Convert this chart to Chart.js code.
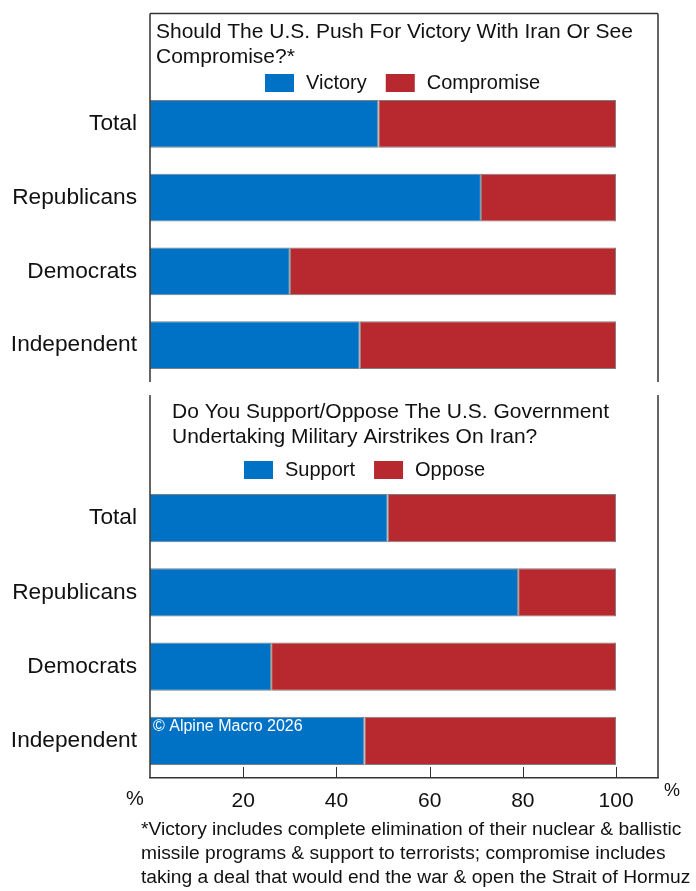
<!DOCTYPE html>
<html>
<head>
<meta charset="utf-8">
<script src="https://cdn.jsdelivr.net/npm/chart.js@4.4.1/dist/chart.umd.min.js"></script>
<style>
  body { margin: 0; background: #fff; width: 696px; height: 891px; position: relative; overflow: hidden;
         font-family: 'Liberation Sans', Arial, sans-serif; }
  canvas { position: absolute; left: 0; }
  #top { top: 0; }
  #bottom { top: 390px; }
  #note { position: absolute; left: 141px; top: 817px; font-size: 19.2px; line-height: 24px; color: #111; white-space: nowrap; }
</style>
</head>
<body>
<canvas id="top" width="696" height="390"></canvas>
<canvas id="bottom" width="696" height="430"></canvas>
<div id="note">*Victory includes complete elimination of their nuclear &amp; ballistic<br>missile programs &amp; support to terrorists; compromise includes<br>taking a deal that would end the war &amp; open the Strait of Hormuz</div>
<script>
// survey shares, % of respondents
const groups = ['Total', 'Republicans', 'Democrats', 'Independent'];
const victory = [49, 71, 30, 45];
const compromise = [51, 29, 70, 55];
const support = [51, 79, 26, 46];
const oppose = [49, 21, 74, 54];
const xTicks = [20, 40, 60, 80, 100];

const BLUE = '#0072C6';
const RED = '#B8282F';
const LINE = '#333';
const FONT = "'Liberation Sans', Arial, sans-serif";

// frame lines, titles, legend, inside ticks and notes
const decor = {
    id: 'decor',
    afterDraw(chart, args, o) {
        const { ctx, chartArea: a } = chart;
        ctx.save();
        ctx.strokeStyle = LINE;
        ctx.lineWidth = 1.5;
        ctx.beginPath();
        if (o.frameTop != null) {
            ctx.moveTo(a.left, o.frameTop);
            ctx.lineTo(a.right, o.frameTop);
        }
        ctx.moveTo(a.left, o.sideTop);
        ctx.lineTo(a.left, a.bottom);
        ctx.moveTo(a.right, o.sideTop);
        ctx.lineTo(a.right, a.bottom);
        ctx.stroke();

        ctx.fillStyle = '#111';
        ctx.textBaseline = 'middle';
        ctx.textAlign = 'left';
        ctx.font = `21px ${FONT}`;
        o.title.forEach((t, i) => ctx.fillText(t, o.titleX, o.titleY + i * 25));

        // legend
        ctx.font = `20px ${FONT}`;
        let x = o.legendX;
        chart.data.datasets.forEach(ds => {
            ctx.fillStyle = ds.backgroundColor;
            ctx.fillRect(x, o.legendY - 9, 29, 18);
            ctx.fillStyle = '#111';
            ctx.fillText(ds.label, x + 41, o.legendY);
            x += 41 + ctx.measureText(ds.label).width + 19;
        });

        if (o.axis) {
            const xs = chart.scales.x;
            ctx.lineWidth = 1;
            ctx.beginPath();
            xTicks.forEach(v => {
                const px = Math.round(xs.getPixelForValue(v)) + 0.5;
                ctx.moveTo(px, a.bottom - 11);
                ctx.lineTo(px, a.bottom);
            });
            ctx.stroke();
            ctx.font = `20px ${FONT}`;
            ctx.textAlign = 'center';
            ctx.fillText('%', a.left - 15, a.bottom + 21);
            ctx.font = `18px ${FONT}`;
            ctx.fillText('%', a.right + 14, a.bottom + 13);

            // copyright inside the last bar
            const bar = chart.getDatasetMeta(0).data[groups.length - 1];
            ctx.font = `16px ${FONT}`;
            ctx.textAlign = 'left';
            ctx.textBaseline = 'top';
            ctx.fillStyle = '#fff';
            ctx.fillText('© Alpine Macro 2026', a.left + 3, bar.y - bar.height / 2 + 2);
        }
        ctx.restore();
    }
};

function makeChart(id, labels, a, b, showAxis, padTop, padBottom, deco) {
    const ds = (label, data, color) => ({
        label, data,
        backgroundColor: color,
        borderColor: 'rgba(40,40,40,0.6)',
        borderWidth: 1,
        borderSkipped: false,
        barPercentage: 0.65,
        categoryPercentage: 1
    });
    return new Chart(document.getElementById(id), {
        type: 'bar',
        data: {
            labels: groups,
            datasets: [ds(labels[0], a, BLUE), ds(labels[1], b, RED)]
        },
        options: {
            indexAxis: 'y',
            responsive: false,
            maintainAspectRatio: false,
            animation: false,
            layout: { padding: { top: padTop, right: 38, bottom: padBottom, left: 0 } },
            plugins: {
                legend: { display: false },
                tooltip: { enabled: false },
                decor: deco
            },
            scales: {
                x: {
                    stacked: true,
                    min: 0,
                    max: 109,
                    display: showAxis,
                    grid: { display: false, drawTicks: false },
                    border: { display: true, color: LINE, width: 1.5 },
                    afterBuildTicks: s => { s.ticks = xTicks.map(v => ({ value: v })); },
                    afterFit: s => { if (showAxis) s.height = 42; },
                    ticks: { font: { size: 21, family: FONT }, color: '#111', padding: 11, maxRotation: 0 }
                },
                y: {
                    stacked: true,
                    grid: { display: false, drawTicks: false },
                    border: { display: false },
                    afterFit: s => { s.width = 150; s.paddingTop = 0; s.paddingBottom = 0; },
                    ticks: { font: { size: 22.7, family: FONT }, color: '#111', padding: 13 }
                }
            }
        },
        plugins: [decor]
    });
}

makeChart('top', ['Victory', 'Compromise'], victory, compromise, false, 87, 8, {
    frameTop: 13.5, sideTop: 13.5,
    title: ['Should The U.S. Push For Victory With Iran Or See', 'Compromise?*'],
    titleX: 156, titleY: 32,
    legendX: 265, legendY: 83,
    axis: false
});

makeChart('bottom', ['Support', 'Oppose'], support, oppose, true, 91, 0, {
    frameTop: null, sideTop: 5,
    title: ['Do You Support/Oppose The U.S. Government', 'Undertaking Military Airstrikes On Iran?'],
    titleX: 172, titleY: 22,
    legendX: 244, legendY: 80,
    axis: true
});
</script>
</body>
</html>
